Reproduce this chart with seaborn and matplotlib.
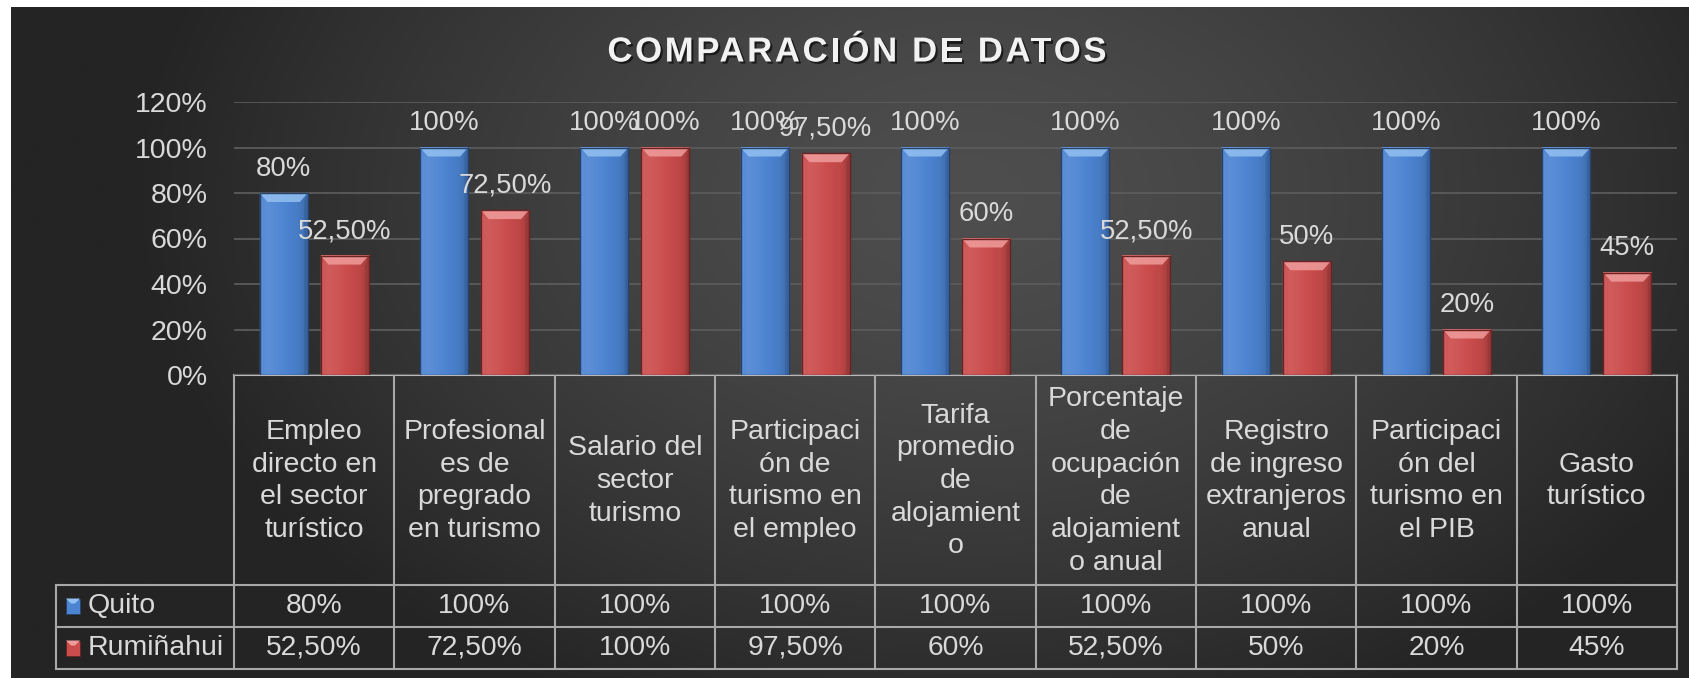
import numpy as np
import pandas as pd
import matplotlib
matplotlib.use("Agg")
import matplotlib.pyplot as plt
import matplotlib.patheffects as pe
from matplotlib.patches import Rectangle, Polygon
import seaborn as sns

# ---------------------------------------------------------------- data
categories = [
    "Empleo\ndirecto en\nel sector\nturístico",
    "Profesional\nes de\npregrado\nen turismo",
    "Salario del\nsector\nturismo",
    "Participaci\nón de\nturismo en\nel empleo",
    "Tarifa\npromedio\nde\nalojamient\no",
    "Porcentaje\nde\nocupación\nde\nalojamient\no anual",
    "Registro\nde ingreso\nextranjeros\nanual",
    "Participaci\nón del\nturismo en\nel PIB",
    "Gasto\nturístico",
]
series = ["Quito", "Rumiñahui"]
quito = [0.80, 1.00, 1.00, 1.00, 1.00, 1.00, 1.00, 1.00, 1.00]
ruminahui = [0.525, 0.725, 1.00, 0.975, 0.60, 0.525, 0.50, 0.20, 0.45]
y_ticks = [0.0, 0.2, 0.4, 0.6, 0.8, 1.0, 1.2]
title = "COMPARACIÓN DE DATOS"

# ---------------------------------------------------------------- style
W, H, DPI = 1689, 678, 100
TXT = "#d9d9d9"
LINE = "#a8a8a8"
base_colors = {"Quito": "#4c84d2", "Rumiñahui": "#cb4c4c"}
bevel_colors = {"Quito": "#93c0f1", "Rumiñahui": "#f09c9c"}
edge_colors = {"Quito": "#24426b", "Rumiñahui": "#6b2222"}

plt.rcParams["font.family"] = ["Liberation Sans", "DejaVu Sans"]


def pct(v):
    p = v * 100
    if abs(p - round(p)) < 1e-9:
        return f"{int(round(p))}%"
    return f"{p:.2f}".replace(".", ",") + "%"


df = pd.DataFrame({
    "categoria": categories * 2,
    "serie": [series[0]] * len(categories) + [series[1]] * len(categories),
    "valor": quito + ruminahui,
})

fig = plt.figure(figsize=(W / DPI, H / DPI), dpi=DPI)
fig.patch.set_facecolor("white")

# background layer (pixel coordinates, y downwards)
bg = fig.add_axes([0, 0, 1, 1], zorder=0)
bg.axis("off")
yy, xx = np.mgrid[0:H:2, 0:W:2]
r = np.sqrt(((xx / W - 0.57) / 0.50) ** 2 + ((yy / H - 0.28) / 0.85) ** 2)
r = np.clip(r, 0, 1)
c0, c1 = 78 / 255, 36 / 255
lum = c0 - (c0 - c1) * r ** 1.4
img = np.dstack([lum, lum, lum])
bg.imshow(img, extent=(11, W, H, 7), origin="upper", aspect="auto",
          interpolation="bilinear", zorder=0)
bg.set_xlim(0, W)
bg.set_ylim(H, 0)

# plot area
ax_left, ax_right, ax_top, ax_zero = 234, 1677, 102, 375
ax = fig.add_axes([ax_left / W, (H - ax_zero) / H, (ax_right - ax_left) / W,
                   (ax_zero - ax_top) / H], zorder=1)
ax.patch.set_alpha(0)

sns.barplot(data=df, x="categoria", y="valor", hue="serie", palette=base_colors,
            saturation=1, width=0.76, gap=0.21, legend=False, ax=ax,
            linewidth=0, errorbar=None)

ax.set_xlim(-0.5, len(categories) - 0.5)
ax.set_ylim(0, 1.2)
ax.set_yticks(y_ticks)
ax.set_yticklabels([pct(v) for v in y_ticks])
ax.tick_params(axis="y", length=0, pad=19, labelsize=20.5, labelcolor=TXT)
ax.tick_params(axis="x", bottom=False, labelbottom=False)
ax.set_xlabel("")
ax.set_ylabel("")
for s in ax.spines.values():
    s.set_visible(False)
ax.set_axisbelow(True)
ax.yaxis.grid(True, color="#5b5b5b", linewidth=1.3)
ax.xaxis.grid(False)

# pixel sizes in data units
p0 = ax.transData.transform((0, 0))
p1 = ax.transData.transform((1, 1))
px_x = p1[0] - p0[0]
px_y = p1[1] - p0[1]
bx = 8 / px_x
by = 9 / px_y


def shade(hexcol, f):
    rgb = np.array(matplotlib.colors.to_rgb(hexcol))
    if f >= 1:
        return rgb + (1 - rgb) * (f - 1)
    return rgb * f


for cont, name in zip(ax.containers, series):
    base = base_colors[name]
    t = np.linspace(0, 1, 40)
    fac = np.interp(t, [0, 0.12, 0.35, 0.8, 1.0], [1.02, 1.09, 1.05, 0.93, 0.80])
    grad = np.array([[shade(base, f) for f in fac]])
    grad = np.clip(grad, 0, 1)
    for bar in cont:
        x0, w, h = bar.get_x(), bar.get_width(), bar.get_height()
        ax.imshow(grad, extent=(x0, x0 + w, 0, h), aspect="auto",
                  interpolation="bilinear", zorder=2)
        # bevel: top face lighter, side faces shaded
        ax.add_patch(Polygon([(x0, h), (x0 + w, h), (x0 + w - bx, h - by),
                              (x0 + bx, h - by)], closed=True,
                             facecolor=bevel_colors[name], edgecolor="none",
                             alpha=0.85, zorder=3))
        ax.add_patch(Polygon([(x0 + w, 0), (x0 + w, h), (x0 + w - bx * 0.45, h - by),
                              (x0 + w - bx * 0.45, 0)], closed=True,
                             facecolor=shade(base, 0.7), edgecolor="none",
                             alpha=0.55, zorder=3))
        ax.add_patch(Polygon([(x0, 0), (x0, h), (x0 + bx * 0.45, h - by),
                              (x0 + bx * 0.45, 0)], closed=True,
                             facecolor=shade(base, 1.15), edgecolor="none",
                             alpha=0.45, zorder=3))
        ax.add_patch(Rectangle((x0, 0), w, h, facecolor="none",
                               edgecolor=edge_colors[name], linewidth=1.0,
                               zorder=4))
        ax.annotate(pct(h), xy=(x0 + w / 2, h), xytext=(0, 12.5),
                    textcoords="offset points", ha="center", va="baseline",
                    fontsize=19.8, color=TXT, zorder=5,
                    annotation_clip=False)
ax.set_xlim(-0.5, len(categories) - 0.5)
ax.set_ylim(0, 1.2)

# ---------------------------------------------------------------- data table
xb = [ax.transData.transform((i - 0.5, 0))[0] for i in range(len(categories) + 1)]
y_axis = H - ax.transData.transform((0, 0))[1]
row_cat, row_q, row_r = 585, 627, 669
leg_left = 56
lw = 1.5
bg.plot([xb[0], xb[-1]], [y_axis, y_axis], color="#b8b8b8", lw=lw, zorder=3)
for y in (row_cat, row_q, row_r):
    bg.plot([leg_left, xb[-1]], [y, y], color=LINE, lw=lw, zorder=3)
bg.plot([leg_left, leg_left], [row_cat, row_r], color=LINE, lw=lw, zorder=3)
for x in xb:
    bg.plot([x, x], [y_axis, row_r], color=LINE, lw=lw, zorder=3)

for i, cat in enumerate(categories):
    xc = (xb[i] + xb[i + 1]) / 2
    bg.text(xc, (y_axis + row_cat) / 2 + 1, cat, ha="center", va="center",
            fontsize=20.5, color=TXT, linespacing=1.33, zorder=4)
    bg.text(xc, (row_cat + row_q) / 2, pct(quito[i]), ha="center",
            va="center", fontsize=20.3, color=TXT, zorder=4)
    bg.text(xc, (row_q + row_r) / 2, pct(ruminahui[i]), ha="center",
            va="center", fontsize=20.3, color=TXT, zorder=4)

for name, (ya, yb) in zip(series, [(row_cat, row_q), (row_q, row_r)]):
    yc = (ya + yb) / 2
    bg.add_patch(Rectangle((66, yc - 7.5), 14, 15, facecolor=base_colors[name],
                           edgecolor=edge_colors[name], lw=0.6, zorder=4))
    bg.add_patch(Polygon([(66, yc - 7.5), (80, yc - 7.5), (75, yc - 2.5),
                          (71, yc - 2.5)], closed=True,
                         facecolor=bevel_colors[name], edgecolor="none", zorder=5))
    bg.text(88, yc, name, ha="left", va="center", fontsize=20.5, color=TXT,
            zorder=4)

# ---------------------------------------------------------------- title
title_size = 25
title_spacing = 2.6
shadow = [pe.withSimplePatchShadow(offset=(1.5, -1.5), shadow_rgbFace="black",
                                   alpha=0.6)]
try:
    from matplotlib import _text_helpers
    from matplotlib.font_manager import FontProperties, findfont, get_font
    fp = FontProperties(family="Liberation Sans", weight="bold", size=title_size)
    font = get_font(findfont(fp))
    font.set_size(title_size, DPI)
    items = list(_text_helpers.layout(title, font))
    last_adv = font.load_char(ord(title[-1])).linearHoriAdvance / 65536
    total = items[-1].x + last_adv + title_spacing * (len(items) - 1)
    x_start = 857 - total / 2
    for k, it in enumerate(items):
        if it.char == " ":
            continue
        bg.text(x_start + it.x + k * title_spacing, 61.5, it.char, ha="left",
                va="baseline", fontsize=title_size, fontweight="bold",
                color="#f2f2f2", path_effects=shadow, zorder=5)
except Exception:
    bg.text(857, 61.5, title, ha="center", va="baseline", fontsize=title_size,
            fontweight="bold", color="#f2f2f2", path_effects=shadow, zorder=5)

fig.savefig("out.png", dpi=DPI, facecolor=fig.get_facecolor())
